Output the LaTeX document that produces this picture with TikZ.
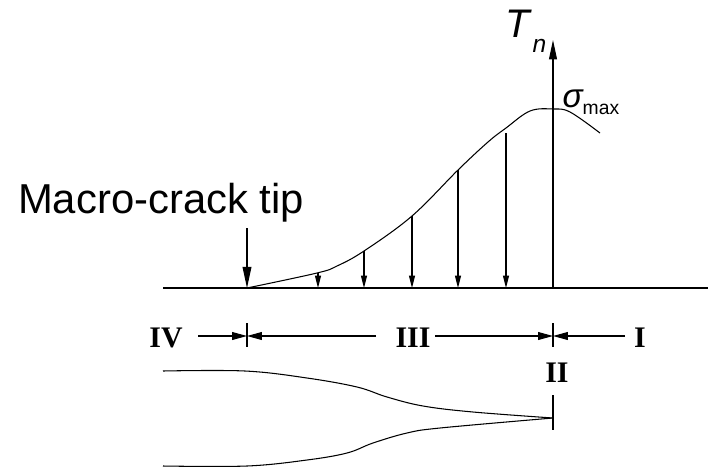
\documentclass[tikz,border=0pt]{standalone}
\usepackage{fontspec}
\setmainfont{Liberation Serif}
\newfontfamily\arialfont{Liberation Sans}
\usetikzlibrary{arrows.meta}

\tikzset{
  load/.style={-{Triangle[length=7pt,width=3.4pt]}},
  dimarrow/.style={-{Triangle[length=8.5pt,width=4.5pt]}},
  zone/.style={font=\bfseries\fontsize{17}{17}\selectfont, inner sep=0pt},
}

\begin{document}
\begin{tikzpicture}[x=0.02cm, y=-0.02cm, line width=0.6pt]
  \useasboundingbox (0,0) rectangle (708,468);

  % axes
  \coordinate (left) at (163,288);
  \coordinate (right) at (708,288);
  \coordinate (origin) at (553,288);
  \coordinate (top) at (553,40);
  \draw[line width=0.8pt] (left) -- (right);
  \draw[-{Triangle[length=11pt,width=4.5pt]}] (origin) -- (top);
  \node[anchor=base west, inner sep=0pt, font=\arialfont\itshape] (tn) at (505,37)
    {\fontsize{22.7}{24}\selectfont T\hspace{1.5pt}\raisebox{-9pt}{\fontsize{14}{14}\selectfont n}};

  % traction curve
  \draw plot[smooth, tension=0.6] coordinates {(247,288) (317,273) (337,266) (364,251)
    (412,216) (458,170) (488,142) (506,128) (530,111) (553,109) (570,112) (600,133)};
  \node[anchor=base west, inner sep=0pt, font=\arialfont] (smax) at (562,107)
    {{\fontsize{19}{19}\selectfont\itshape σ}\raisebox{-4.5pt}{\fontsize{11}{11}\selectfont max}};

  % cohesive tractions
  \foreach \x/\y [count=\i] in {318/273, 364/251, 412/216, 458/170, 506/133} {
    \coordinate (s\i) at (\x,\y);
    \coordinate (a\i) at (\x,288);
    \draw[load] (s\i) -- (a\i);
  }

  % macro-crack tip
  \node[anchor=base, inner sep=0pt, font=\arialfont\fontsize{23.8}{26}\selectfont] (tip) at (161,213) {Macro-crack tip};
  \coordinate (tipstart) at (247,228);
  \coordinate (tipend) at (247,288);
  \draw[-{Triangle[length=12pt,width=5pt]}] (tipstart) -- (tipend);

  % zones
  \coordinate (d1) at (247,336);
  \coordinate (d2) at (553,336);
  \draw (247,323) -- (247,347);
  \draw (553,323) -- (553,347);
  \draw[dimarrow] (198,336) -- (d1);
  \draw[dimarrow] (376,336) -- (d1);
  \draw[dimarrow] (435,336) -- (d2);
  \draw[dimarrow] (625,336) -- (d2);
  \node[zone] (z4) at (166,338) {IV};
  \node[zone] (z3) at (413,338) {III};
  \node[zone] (z1) at (640,338) {I};
  \node[zone] (z2) at (557,373) {II};

  % crack opening
  \draw plot[smooth, tension=0.6] coordinates {(163,371) (245,371) (307,378) (357,387)
    (387,397) (423,406) (473,412) (553,418)};
  \draw plot[smooth, tension=0.6] coordinates {(163,466) (247,466) (307,460) (347,453)
    (373,443) (407,433) (440,428) (553,418)};
  \draw (553,395) -- (553,430);
\end{tikzpicture}
\end{document}
